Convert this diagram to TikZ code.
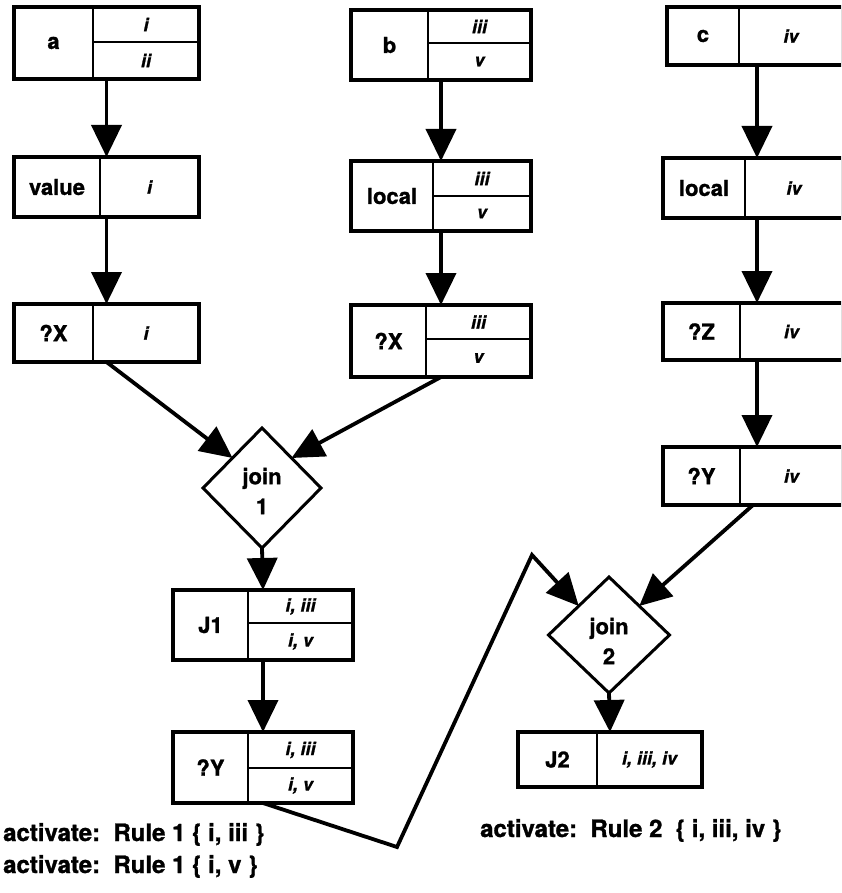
\documentclass[tikz,border=0pt]{standalone}
\usepackage{fontspec}
\setmainfont{TeX Gyre Heros}[BoldFeatures={FakeBold=1.2},BoldItalicFeatures={FakeBold=1.2}]
\usetikzlibrary{arrows.meta,shapes.geometric,fit,calc}

\tikzset{
  frame/.style={draw, line width=3.8pt, rectangle, inner sep=0pt, outer sep=0pt},
  div/.style={line width=2.6pt},
  lbl/.style={font=\fontsize{22}{24}\selectfont\bfseries, inner sep=0pt},
  val/.style={font=\fontsize{18}{20}\selectfont\bfseries\itshape, inner sep=0pt},
  arr/.style={line width=3.8pt, line join=miter, -{Triangle[length=32pt,width=30pt]}},
  joint/.style={diamond, draw, line width=3pt, inner sep=0pt, outer sep=0pt},
  jtext/.style={font=\fontsize{22}{30}\selectfont\bfseries, align=center, inner sep=0pt},
  note/.style={font=\fontsize{24}{26}\selectfont\bfseries, inner sep=0pt, anchor=base west},
}

% name, left, top, right, bottom, divx, label, value
\newcommand\oneBox[8]{%
  \node[frame, fit={(#2,#3) (#4,#5)}] (#1) {};
  \draw[div] (#6,#3) -- (#6,#5);
  \node[lbl] at ({(#2+#6)/2},{(#3+#5)/2}) {#7};
  \node[val] at ({(#6+#4)/2},{(#3+#5)/2}) {#8};
}
% name, left, top, right, bottom, divx, hdivy, label, upper value
\newcommand\twoBox[9]{%
  \node[frame, fit={(#2,#3) (#4,#5)}] (#1) {};
  \draw[div] (#6,#3) -- (#6,#5);
  \draw[div] (#6,#7) -- (#4,#7);
  \node[lbl] at ({(#2+#6)/2},{(#3+#5)/2}) {#8};
  \node[val] at ({(#6+#4)/2},{(#3+#7)/2}) {#9};
}
% lower value: divx, right, hdivy, bottom, text
\newcommand\twoBoxB[5]{\node[val] at ({(#1+#2)/2},{(#3+#4)/2}) {#5};}

\begin{document}
\begin{tikzpicture}[x=1pt,y=-1pt]
\useasboundingbox (0,0) rectangle (841,893);
\clip (0,0) rectangle (841,893);

% column a
\twoBox{a}{14}{7}{199}{79}{93}{42}{a}{i}
\twoBoxB{93}{199}{42}{79}{ii}
\oneBox{va}{14}{157}{199}{217}{100}{value}{i}
\oneBox{xa}{14}{304}{199}{362}{93}{?X}{i}

% column b
\twoBox{b}{351}{10}{531}{80}{428}{43}{b}{iii}
\twoBoxB{428}{531}{43}{80}{v}
\twoBox{lb}{351}{161}{531}{231}{433}{196}{local}{iii}
\twoBoxB{433}{531}{196}{231}{v}
\twoBox{xb}{351}{305}{531}{377}{426}{339}{?X}{iii}
\twoBoxB{426}{531}{339}{377}{v}

% column c
\oneBox{c}{667}{7}{843}{65}{739}{c}{iv}
\oneBox{lc}{663}{158}{843}{218}{745}{local}{iv}
\oneBox{zc}{663}{303}{843}{360}{740}{?Z}{iv}
\oneBox{yc}{663}{447}{843}{505}{740}{?Y}{iv}
\coordinate (colc) at (757,0);

% joins
\node[joint, minimum width=118pt, minimum height=120pt] (j1) at (262,488) {};
\node[jtext] at (262,491) {join\\1};
\node[joint, minimum width=121pt, minimum height=116pt] (j2) at (609,635) {};
\node[jtext] at (609,641) {join\\2};

\twoBox{J1}{173}{590}{353}{660}{248}{623}{J1}{i, iii}
\twoBoxB{248}{353}{623}{660}{i, v}
\twoBox{y1}{173}{732}{353}{803}{248}{768}{?Y}{i, iii}
\twoBoxB{248}{353}{768}{803}{i, v}
\oneBox{J2}{518}{732}{702}{787}{597}{J2}{i, iii, iv}

% connectors
\draw[arr] (a.south) -- (va.north);
\draw[arr] (va.south) -- (xa.north);
\draw[arr] (b.south) -- (lb.north);
\draw[arr] (lb.south) -- (xb.north);
\draw[arr] (c.south -| colc) -- (lc.north -| colc);
\draw[arr] (lc.south -| colc) -- (zc.north -| colc);
\draw[arr] (zc.south -| colc) -- (yc.north -| colc);
\draw[arr] (xa.south) -- (j1.north west);
\draw[arr] (xb.south) -- (j1.north east);
\draw[arr] (j1.south) -- (J1.north);
\draw[arr] (J1.south) -- (y1.north);
\coordinate (k1) at (397,847);
\coordinate (k2) at (532,555);
\draw[arr] (y1.south) -- (k1) -- (k2) -- (j2.north west);
\draw[arr] (yc.south) -- (j2.north east);
\draw[arr] (j2.south) -- (J2.north);

% notes
\node[note] (r1) at (3,841) {activate:\ \ Rule 1 \{ i, iii \}};
\node[note] (r2) at (3,873) {activate:\ \ Rule 1 \{ i, v \}};
\node[note] (r3) at (480,837) {activate:\ \ Rule 2\ \ \{ i, iii, iv \}};
\end{tikzpicture}
\end{document}
